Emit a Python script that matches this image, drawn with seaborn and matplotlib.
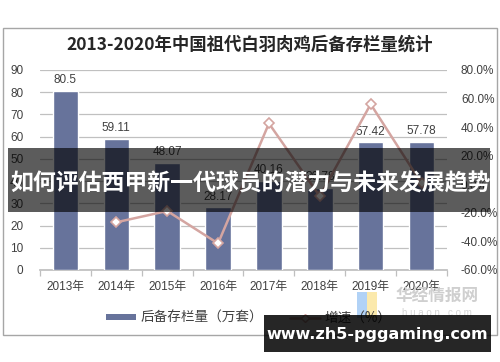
import matplotlib
matplotlib.use("Agg")
import matplotlib.pyplot as plt
import seaborn as sns
import pandas as pd
from matplotlib.patches import Rectangle
from matplotlib.lines import Line2D
from matplotlib.patches import Patch

years = ["2013年", "2014年", "2015年", "2016年", "2017年", "2018年", "2019年", "2020年"]
stock = [80.5, 59.11, 48.07, 28.17, 40.16, 36.78, 57.42, 57.78]
growth_years = ["2014年", "2015年", "2016年", "2017年", "2018年", "2019年", "2020年"]
growth = [-26.6, -18.7, -41.4, 42.6, -8.4, 56.1, 0.6]
left_ticks = [0, 10, 20, 30, 40, 50, 60, 70, 80, 90]
right_ticks = [-60, -40, -20, 0, 20, 40, 60, 80]

title = "2013-2020年中国祖代白羽肉鸡后备存栏量统计"
legend_bar = "后备存栏量（万套）"
legend_line = "增速（%）"
banner = "如何评估西甲新一代球员的潜力与未来发展趋势"
site = "www.zh5-pggaming.com"

sns.set_theme(style="white")
plt.rcParams['font.family'] = ['Liberation Sans', 'Noto Sans CJK SC', 'DejaVu Sans']

BAR = "#67739b"
LINE = "#d4a5a1"
TXT = "#404040"

fig = plt.figure(figsize=(5.0, 3.62), dpi=100)
W, H = 500, 362
ax = fig.add_axes([40 / W, 1 - 270 / H, 407 / W, 200 / H])

df = pd.DataFrame({"year": years, "stock": stock})
sns.barplot(data=df, x="year", y="stock", order=years, color=BAR, width=0.5,
            saturation=1, ax=ax, zorder=3)
ax.set_xlim(-0.5, 7.5)
ax.set_ylim(0, 90)
ax.set_yticks(left_ticks)
ax.yaxis.grid(True, color="#c0c0c0", linewidth=0.9, zorder=0)
ax.set_axisbelow(True)
for s in ["top", "right", "left"]:
    ax.spines[s].set_visible(False)
ax.spines["bottom"].set_color("#bfbfbf")
ax.set_xlabel("")
ax.set_ylabel("")
ax.tick_params(axis="y", length=0, labelsize=8.5, labelcolor=TXT, pad=12)
ax.tick_params(axis="x", length=0, labelsize=8.5, labelcolor=TXT, pad=8)
for lab in ax.get_xticklabels():
    lab.set_family(['Liberation Sans', 'Noto Sans CJK SC'])
# minor ticks at category boundaries
ax.set_xticks([i + 0.5 for i in range(-1, 8)], minor=True)
ax.tick_params(axis="x", which="minor", length=4, color="#bfbfbf", width=0.9, direction="out", bottom=True)
for i, v in enumerate(stock):
    ax.text(i, v + 2.2, f"{v:g}", ha="center", va="bottom", fontsize=8.5, color=TXT, zorder=4)

ax2 = ax.twinx()
gdf = pd.DataFrame({"year": growth_years, "growth": growth})
sns.pointplot(data=gdf, x="year", y="growth", order=years, color=LINE, markers="D",
              linestyles="-", ax=ax2, linewidth=1.8, markersize=5.5,
              markerfacecolor="white", markeredgecolor=LINE, markeredgewidth=1.2)
ax2.set_xlim(-0.5, 7.5)
ax2.set_ylim(-60, 80)
ax2.set_yticks(right_ticks)
ax2.set_yticklabels([f"{t:.1f}%" for t in right_ticks])
ax2.tick_params(axis="y", length=0, labelsize=8.5, labelcolor=TXT, pad=10)
for s in ["top", "right", "left", "bottom"]:
    ax2.spines[s].set_visible(False)
ax2.set_ylabel("")
ax2.set_xlabel("")
ax2.grid(False)

# frame
fig.patches.append(Rectangle((3 / W, 1 - 335 / H), 494 / W, 307 / H, transform=fig.transFigure,
                             fill=False, edgecolor="#a6a6a6", linewidth=1.0))
fig.text(0.5, 1 - 45 / H, title, ha="center", va="center", fontsize=12.5, fontweight="bold",
         color="#262626", family=['Noto Sans CJK SC', 'DejaVu Sans'])

handles = [Patch(facecolor=BAR, edgecolor="none"),
           Line2D([0], [0], color=LINE, lw=1.8, marker="D", markersize=4.5,
                  markerfacecolor="white", markeredgecolor=LINE)]
leg = fig.legend(handles, [legend_bar, legend_line], loc="center", ncol=2,
                 bbox_to_anchor=(0.497, 1 - 318 / H), frameon=False,
                 handlelength=2.2, handleheight=0.35, columnspacing=2.0, handletextpad=0.3,
                 prop={'family': ['Noto Sans CJK SC'], 'size': 9.8})
for t in leg.get_texts():
    t.set_color(TXT)

# huaon watermark
fig.patches.append(Rectangle((357 / W, 1 - 318 / H), 10 / W, 26 / H, transform=fig.transFigure,
                             facecolor="#a9cdf5", edgecolor="none", alpha=0.9))
fig.patches.append(Rectangle((367 / W, 1 - 318 / H), 10 / W, 26 / H, transform=fig.transFigure,
                             facecolor="#fbe7a3", edgecolor="none", alpha=0.9))
fig.text(437 / W, 1 - 297 / H, "华经情报网", ha="center", va="center", fontsize=12,
         fontweight="bold", color="#cfcfcf", family=['Noto Sans CJK SC'])
fig.text(437 / W, 1 - 313 / H, "h u a o n . c o m", ha="center", va="center", fontsize=7,
         color="#d5d5d5")

# banner overlay
fig.patches.append(Rectangle((8 / W, 1 - 212 / H), 482 / W, 64 / H, transform=fig.transFigure,
                             facecolor="black", edgecolor="none", alpha=0.64, zorder=10))
fig.text(0.5, 1 - 184 / H, banner, ha="center", va="center", fontsize=16.5, fontweight="bold",
         color="white", family=['Noto Sans CJK SC'], zorder=11)

# site box
fig.patches.append(Rectangle((264 / W, 1 - 352 / H), 227 / W, 37 / H, transform=fig.transFigure,
                             facecolor="black", edgecolor="none", alpha=0.85, zorder=10))
fig.text(377 / W, 1 - 334 / H, site, ha="center", va="center", fontsize=11.5, fontweight="bold",
         color="white", family=['DejaVu Sans'], zorder=11)

fig.savefig("out.png", dpi=100)
